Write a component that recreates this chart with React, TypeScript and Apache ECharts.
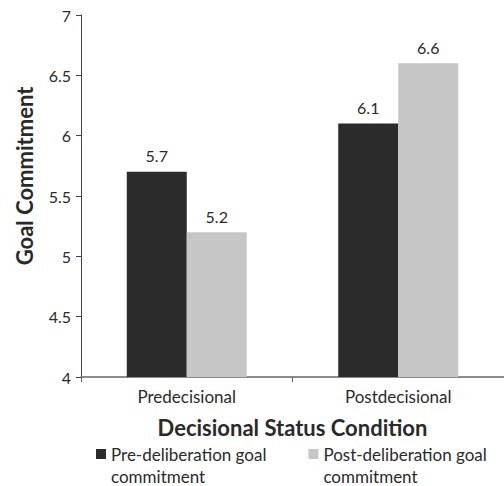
import React, { useEffect, useRef } from "react";
import * as echarts from "echarts";

const categories = ["Predecisional", "Postdecisional"];
const seriesNames = [
  "Pre-deliberation goal\ncommitment",
  "Post-deliberation goal\ncommitment",
];
const preValues = [5.7, 6.1];
const postValues = [5.2, 6.6];
const yMin = 4;
const yMax = 7;
const yInterval = 0.5;

const FONT = "Lato, 'Open Sans', sans-serif";

export default function App() {
  const ref = useRef<HTMLDivElement>(null);
  useEffect(() => {
    if (!ref.current) return;
    const chart = echarts.init(ref.current, undefined, { renderer: "svg" });
    const labelStyle = {
      show: true,
      position: "top" as const,
      distance: 8,
      color: "#2a2a2a",
      fontSize: 16,
      fontFamily: FONT,
    };
    chart.setOption({
      animation: false,
      backgroundColor: "#ffffff",
      textStyle: { fontFamily: FONT },
      grid: { left: 81, right: 0, top: 15, bottom: 109, containLabel: false },
      legend: {
        left: 96,
        top: 421,
        padding: 0,
        itemWidth: 10,
        itemHeight: 10,
        itemGap: 42,
        icon: "rect",
        data: seriesNames,
        formatter: (name: string) => " \n" + name,
        textStyle: {
          fontSize: 17,
          fontFamily: FONT,
          color: "#2a2a2a",
          lineHeight: 22,
        },
      },
      xAxis: {
        type: "category",
        data: categories,
        name: "Decisional Status Condition",
        nameLocation: "middle",
        nameGap: 39,
        nameTextStyle: {
          fontSize: 22,
          fontWeight: "bold",
          color: "#2a2a2a",
          fontFamily: FONT,
        },
        axisLine: { lineStyle: { color: "#666", width: 1.5 } },
        axisTick: { show: true, alignWithLabel: false, length: 5, lineStyle: { color: "#666" } },
        axisLabel: { fontSize: 17, color: "#2a2a2a", margin: 11, fontFamily: FONT },
      },
      yAxis: {
        type: "value",
        min: yMin,
        max: yMax,
        interval: yInterval,
        name: "Goal Commitment",
        nameLocation: "middle",
        nameRotate: 90,
        nameGap: 46,
        nameTextStyle: {
          fontSize: 22,
          fontWeight: "bold",
          color: "#2a2a2a",
          fontFamily: FONT,
          padding: [0, 0, 0, 40],
        },
        axisLine: { show: true, lineStyle: { color: "#444", width: 1 } },
        axisTick: { show: true, length: 5, lineStyle: { color: "#444" } },
        splitLine: { show: false },
        axisLabel: { fontSize: 16, color: "#2a2a2a", margin: 10, fontFamily: FONT },
      },
      series: [
        {
          name: seriesNames[0],
          type: "bar",
          data: preValues,
          barWidth: 60,
          barGap: "0%",
          itemStyle: { color: "#2b2b2b" },
          label: labelStyle,
        },
        {
          name: seriesNames[1],
          type: "bar",
          data: postValues,
          barWidth: 60,
          barGap: "0%",
          itemStyle: { color: "#c6c6c6" },
          label: labelStyle,
        },
      ],
    });
    return () => chart.dispose();
  }, []);
  return (
    <div
      ref={ref}
      style={{ position: "absolute", left: 0, top: 0, width: 504, height: 486 }}
    />
  );
}
